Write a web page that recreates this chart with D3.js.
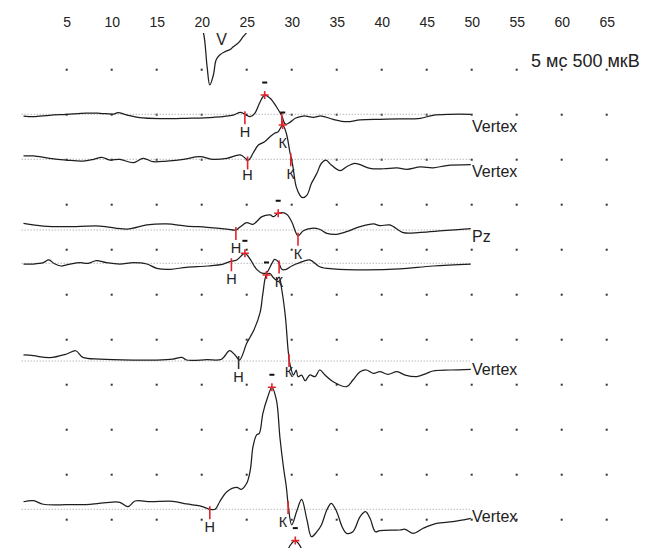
<!DOCTYPE html>
<html><head><meta charset="utf-8">
<script src="https://cdn.jsdelivr.net/npm/d3@7"></script>
<style>html,body{margin:0;padding:0;background:#fff}svg{display:block}</style>
</head><body>
<svg id="chart" width="650" height="548"></svg>
<script>
// ---------------- DATA ----------------
const msTicks = [5,10,15,20,25,30,35,40,45,50,55,60,65];
const gridDivisions = [0,1,2,3,4,5,6,7,8,9,10];
const scaleText = "5 мс 500 мкВ";

// traces: [latency ms, amplitude µV]
const trace0 = [[0,0],[19.8,0],[20.2,-97],[20.6,-471],[20.9,-674],[21.3,-563],[21.6,-397],[22.0,-341],[22.6,-304],[23.2,-278],[23.5,-249],[24.1,-204],[24.6,-138],[25.0,-93],[25.4,-41],[26.0,0],[50,0]];
const trace1 = [[0.2,-19],[1.3,-27],[3.1,-11],[5.0,0],[7.2,14],[8.7,11],[10.2,3],[10.7,18],[11.7,-8],[13.1,-38],[15.4,-49],[18.3,-44],[21.3,-33],[23.5,-8],[24.3,22],[24.8,0],[25.4,-27],[25.9,11],[26.5,140],[27.0,214],[27.6,178],[28.3,84],[28.9,-19],[29.3,-110],[29.8,-90],[30.4,-44],[31.3,-19],[32.4,-33],[33.3,-19],[34.6,-56],[36.1,-82],[37.6,-63],[39.8,-56],[42.0,-52],[44.3,-44],[45.7,-11],[47.6,0],[49.9,0]];
const trace2 = [[0.2,37],[1.3,37],[3.1,11],[5.0,-8],[6.8,-19],[8.0,0],[8.9,22],[9.8,-8],[10.9,0],[12.4,-38],[13.5,11],[14.6,-27],[16.1,-19],[18.0,0],[19.8,29],[21.3,0],[22.8,11],[24.3,48],[25.2,-8],[25.7,67],[26.3,159],[27.0,196],[27.6,251],[28.1,289],[28.5,307],[29.0,381],[29.4,289],[29.8,81],[30.1,-60],[30.5,-304],[30.9,-397],[31.2,-427],[31.7,-397],[32.2,-267],[32.8,-156],[33.3,-44],[33.8,-8],[34.4,-63],[35.4,-127],[36.1,-82],[37.0,-44],[37.6,-60],[38.7,-100],[40.2,-105],[41.7,-95],[42.8,-112],[44.3,-85],[45.7,-95],[47.2,-70],[49.9,-60]];
const trace3 = [[0.2,74],[2.4,44],[5.0,37],[8.7,44],[11.7,11],[13.9,56],[16.1,67],[18.3,44],[20.6,30],[22.8,11],[23.8,0],[24.3,37],[25.0,81],[25.7,63],[26.7,148],[27.6,167],[28.0,148],[28.5,186],[29.4,178],[30.0,92],[30.7,-63],[31.3,-8],[32.2,19],[33.1,8],[33.9,-37],[35.0,-48],[36.1,-19],[37.6,37],[39.1,67],[39.8,48],[40.9,56],[42.4,-30],[44.3,-26],[46.8,-8],[49.9,14]];
const trace4 = [[0.2,-8],[1.3,-8],[2.4,7],[3.0,37],[3.7,-8],[4.4,-30],[5.4,-8],[6.5,7],[7.4,0],[8.3,29],[9.4,7],[10.9,-8],[12.4,7],[13.9,-8],[15.0,-56],[16.5,-67],[18.3,-44],[20.6,-30],[22.4,-8],[23.1,18],[23.9,37],[24.8,111],[25.4,44],[26.1,-67],[26.8,-111],[27.2,-104],[27.8,0],[28.1,44],[28.5,18],[28.9,-67],[29.4,-67],[30.0,-30],[30.9,7],[32.0,37],[33.1,-38],[34.6,-63],[38.3,-74],[42.0,-63],[45.7,-30],[49.9,-8]];
const trace5 = [[0.2,67],[1.3,59],[3.1,37],[5.0,78],[6.0,114],[6.8,41],[8.7,22],[12.4,11],[15.0,11],[16.8,22],[17.8,41],[18.3,11],[20.6,14],[22.2,19],[23.1,114],[23.7,67],[24.2,11],[25.0,197],[25.4,270],[25.8,344],[26.5,544],[26.8,752],[27.2,956],[27.6,972],[27.9,933],[28.3,900],[28.6,933],[28.9,789],[29.3,492],[29.6,122],[29.8,-33],[30.2,-156],[30.5,-100],[30.7,-174],[31.1,-156],[31.5,-219],[32.0,-156],[32.6,-174],[33.1,-100],[33.7,-156],[34.6,-230],[36.1,-285],[36.8,-211],[37.6,-119],[38.3,-100],[39.1,-137],[39.8,-119],[40.7,-148],[41.7,-119],[42.6,-156],[43.9,-174],[45.0,-137],[45.7,-111],[47.6,-100],[49.9,-92]];
const trace6 = [[0.2,84],[1.3,96],[2.4,56],[5.0,51],[7.6,56],[9.8,78],[10.9,78],[11.8,29],[12.6,92],[14.3,84],[16.8,89],[18.3,59],[19.8,37],[20.6,11],[20.9,0],[21.5,0],[22.0,84],[22.8,196],[23.9,244],[24.4,222],[25.0,289],[25.4,437],[25.7,696],[26.1,826],[26.4,844],[26.8,1067],[27.3,1237],[27.8,1356],[28.3,1215],[28.7,789],[29.1,456],[29.4,251],[29.6,60],[30.0,-174],[30.6,-8],[31.1,111],[31.7,-119],[32.2,-304],[32.8,-249],[33.3,-174],[33.9,-8],[34.4,67],[35.0,-27],[35.6,-193],[36.1,-267],[36.8,-249],[37.6,-82],[38.2,-27],[38.7,-100],[39.3,-249],[39.8,-237],[42.0,-230],[42.6,-222],[43.5,-267],[44.6,-211],[46.1,-156],[47.9,-137],[49.9,-100]];
const trace7 = [[0,0],[29.0,0],[29.6,560],[30.0,630],[30.4,660],[30.8,620],[31.2,540],[32.0,0],[50,0]];

const traces = [trace0, trace1, trace2, trace3, trace4, trace5, trace6, trace7];
const traceNames = ["", "Vertex", "Vertex", "Pz", "", "Vertex", "Vertex", ""];
const hLatency   = [null, 24.8, 25.1, 23.8, 23.3, 24.1, 20.9, null];
const kLatency   = [null, 28.9, 29.9, 30.7, 28.6, 29.7, 29.6, null];
const peakLatency= [null, 27.0, 29.0, 28.5, 24.8, 27.2, 27.8, 30.4];
const waveLabel  = {trace: 0, ms: 22.2, text: "V"};

// ---------------- LAYOUT / STYLE ----------------
const layout = {
  baseY:   [24.3, 114.3, 159.3, 230, 263.3, 361, 509.3, 600],
  nameDy:  [0, 17.4, 17.4, 12.3, 0, 14, 12.4, 0],
  kLabelDy:[0, 9, 0, 0, 0, -3, 0, 0],
  kLabelDx:[0, 1, 0, 0, 0, 0, -5, 0],
  hLabelDy:[0, 0, -2, 0, 0, 0, 0, 0],
  hTickColor:["", "r", "r", "r", "r", "k", "r", ""],
  showBaseline:[false,true,true,true,true,true,true,false],
  clipTop: 33
};
const RED = "#e3232c", INK = "#1e1e1e";
const FONT = "'Liberation Sans', Arial, sans-serif";

// ---------------- SCALES ----------------
const x = d3.scaleLinear().domain([0, 65]).range([21.7, 606.7]);
const gridY = d3.scaleLinear().domain([0, 10]).range([69.7, 519.7]);
const UV_PER_DIV = 500, PX_PER_DIV = 45;
const yFor = i => d3.scaleLinear().domain([0, UV_PER_DIV]).range([layout.baseY[i], layout.baseY[i] - PX_PER_DIV]);

function valueAt(tr, t){
  for (let i = 1; i < tr.length; i++) {
    if (tr[i][0] >= t) {
      const a = tr[i-1], b = tr[i];
      const f = (t - a[0]) / (b[0] - a[0]);
      return a[1] + f * (b[1] - a[1]);
    }
  }
  return tr[tr.length-1][1];
}

const svg = d3.select("#chart");
svg.append("rect").attr("width",650).attr("height",548).attr("fill","#fff");

// top axis
const axis = d3.axisTop(x).tickValues(msTicks).tickSize(0).tickPadding(0);
const ga = svg.append("g").attr("transform","translate(0,26.7)").call(axis);
ga.select(".domain").remove();
ga.attr("font-family", FONT).attr("font-size", 14);
ga.selectAll("text").attr("fill", "#222");

// grid dots
const dots = [];
msTicks.forEach(m => gridDivisions.forEach(k => dots.push([m,k])));
svg.append("g").selectAll("rect").data(dots).join("rect")
  .attr("x", d => x(d[0]) - 1).attr("y", d => gridY(d[1]) - 1)
  .attr("width", 2).attr("height", 2).attr("fill", "#333");

// scale legend
svg.append("text").attr("x", 531).attr("y", 66.7)
  .attr("font-family", FONT).attr("font-size", 18).attr("fill", "#222").text(scaleText);

// clip region
svg.append("clipPath").attr("id","clip").append("rect")
  .attr("x",0).attr("y",layout.clipTop).attr("width",650).attr("height",548-layout.clipTop);
const g = svg.append("g").attr("clip-path","url(#clip)");

// baselines
traces.forEach((tr, i) => {
  if (!layout.showBaseline[i]) return;
  const y = yFor(i);
  g.append("line").attr("x1", x(0)).attr("x2", x(50)).attr("y1", y(0)).attr("y2", y(0))
    .attr("stroke", "#9a9a9a").attr("stroke-width", 1).attr("stroke-dasharray", "1,2");
});

// traces
traces.forEach((tr, i) => {
  const y = yFor(i);
  const line = d3.line().x(d => x(d[0])).y(d => y(d[1])).curve(d3.curveCatmullRom.alpha(0.5));
  g.append("path").attr("d", line(tr)).attr("fill","none")
    .attr("stroke", INK).attr("stroke-width", 1.25).attr("stroke-linejoin","round");
});

// wave label
{
  const y = yFor(waveLabel.trace);
  g.append("text").attr("x", x(waveLabel.ms)).attr("y", y(0) + 21).attr("text-anchor","middle")
    .attr("font-family", FONT).attr("font-size", 16).attr("fill", INK).text(waveLabel.text);
}

// markers
function tick(i, lat, letter, color, dx, dy){
  const tr = traces[i], y = yFor(i);
  const xv = x(lat), yv = y(valueAt(tr, lat));
  g.append("line").attr("x1", xv).attr("x2", xv).attr("y1", yv - 3).attr("y2", yv + 10)
    .attr("stroke", color).attr("stroke-width", 1.6);
  g.append("text").attr("x", xv + dx).attr("y", yv + 23 + dy).attr("text-anchor","middle")
    .attr("font-family", FONT).attr("font-size", 14.5).attr("fill", "#222").text(letter);
}
traces.forEach((tr, i) => {
  if (hLatency[i] != null) tick(i, hLatency[i], "Н", layout.hTickColor[i] === "k" ? "#333" : RED, 0, layout.hLabelDy[i]);
  if (kLatency[i] != null) tick(i, kLatency[i], "К", RED, layout.kLabelDx[i], layout.kLabelDy[i]);
  if (peakLatency[i] != null) {
    const y = yFor(i);
    const xv = x(peakLatency[i]), yv = y(valueAt(tr, peakLatency[i]));
    g.append("path").attr("d", `M${xv-4},${yv}H${xv+4}M${xv},${yv-4}V${yv+4}`)
      .attr("stroke", RED).attr("stroke-width", 1.6).attr("fill","none");
    g.append("rect").attr("x", xv - 2.5).attr("y", yv - 13.5).attr("width", 5).attr("height", 2).attr("fill", "#111");
  }
  if (traceNames[i]) {
    g.append("text").attr("x", x(50) + 0.3).attr("y", layout.baseY[i] + layout.nameDy[i])
      .attr("font-family", FONT).attr("font-size", 16).attr("fill", "#222").text(traceNames[i]);
  }
});
</script>
</body></html>
